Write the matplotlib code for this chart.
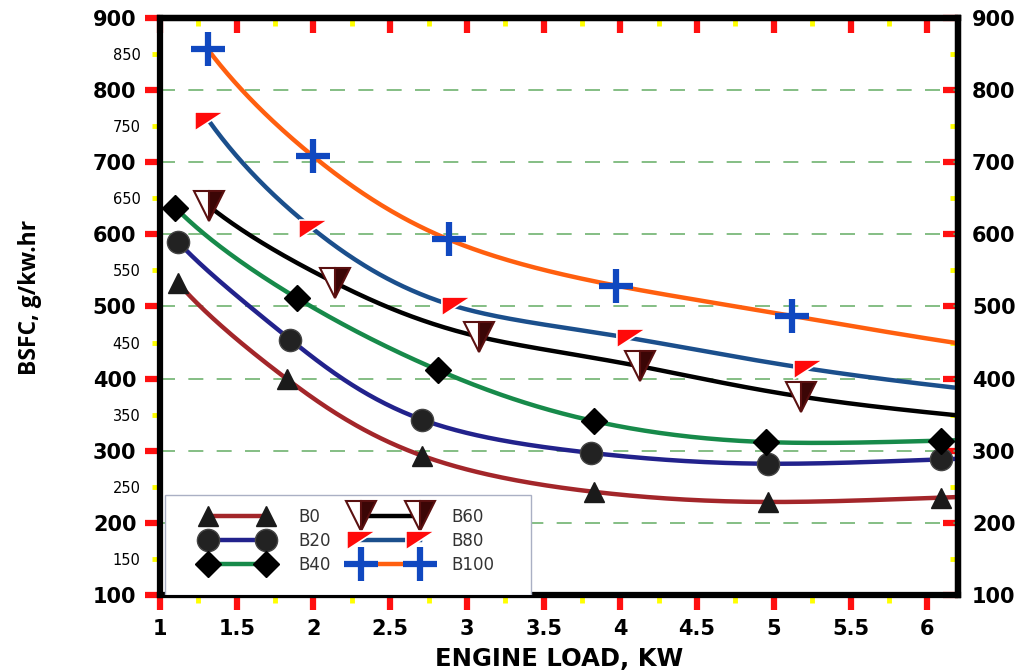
import matplotlib
matplotlib.use("Agg")
import matplotlib.pyplot as plt
import numpy as np
from matplotlib.patches import Rectangle
from matplotlib.ticker import FixedLocator, NullFormatter

# engine load (kW) and BSFC (g/kW.hr)
b0_x = [1.12, 1.83, 2.71, 3.83, 4.96, 6.09]
b0_y = [532, 399, 293, 243, 229, 235]
b20_x = [1.12, 1.85, 2.71, 3.81, 4.96, 6.09]
b20_y = [589, 454, 343, 297, 282, 288]
b40_x = [1.10, 1.89, 2.81, 3.83, 4.95, 6.09]
b40_y = [637, 512, 412, 341, 312, 314]
b60_x = [1.32, 2.14, 3.08, 4.13, 5.18]
b60_y = [639, 533, 458, 417, 375]
b80_x = [1.32, 2.00, 2.93, 4.07, 5.22]
b80_y = [757, 607, 500, 456, 414]
b100_x = [1.31, 2.00, 2.88, 3.97, 5.12]
b100_y = [857, 708, 593, 529, 487]

# where the smoothed curve meets the right-hand axis (x = 6.2);
# None where the last point already sits at the edge
x_max = 6.2
curve_end_y = [None, None, None, 349, 387, 449]

labels = ["B0", "B20", "B40", "B60", "B80", "B100"]
x_ticks = [1, 1.5, 2, 2.5, 3, 3.5, 4, 4.5, 5, 5.5, 6]
x_minor = [1.25, 1.75, 2.25, 2.75, 3.25, 3.75, 4.25, 4.75, 5.25, 5.75]
y_ticks = [100, 200, 300, 400, 500, 600, 700, 800, 900]
y_minor = [150, 250, 350, 450, 550, 650, 750, 850]

flag = [(-1.0, 0.65), (1.0, 0.65), (-1.0, -0.65), (-1.0, 0.65)]

styles = [
    dict(color="#a3262a", marker="^", ms=15, mfc="#1a1a1a", mec="#1a1a1a", mew=1),
    dict(color="#22228c", marker="o", ms=16, mfc="#222222", mec="#444444", mew=1),
    dict(color="#178a4a", marker="D", ms=13, mfc="#000000", mec="#000000", mew=1),
    dict(color="#000000", marker="v", ms=22, mfc="#3b0606", mfcalt="white",
         fillstyle="right", mec="#5a1010", mew=1.5),
    dict(color="#1b4f8c", marker=flag, ms=21, mfc="#ff0a0a", mec="white", mew=1.2),
    dict(color="#ff5f0f", marker="+", ms=25, mfc="#1048c0", mec="#1048c0", mew=4.5),
]


def natural_spline(x, y, xs):
    n = len(x)
    h = np.diff(x)
    A = np.zeros((n, n))
    r = np.zeros(n)
    A[0, 0] = A[-1, -1] = 1.0
    for i in range(1, n - 1):
        A[i, i - 1] = h[i - 1]
        A[i, i] = 2 * (h[i - 1] + h[i])
        A[i, i + 1] = h[i]
        r[i] = 3 * ((y[i + 1] - y[i]) / h[i] - (y[i] - y[i - 1]) / h[i - 1])
    c = np.linalg.solve(A, r)
    b = np.diff(y) / h - h * (2 * c[:-1] + c[1:]) / 3
    d = np.diff(c) / (3 * h)
    idx = np.clip(np.searchsorted(x, xs) - 1, 0, n - 2)
    dx = xs - x[idx]
    return y[idx] + b[idx] * dx + c[idx] * dx ** 2 + d[idx] * dx ** 3


def smooth_curve(x, y, y_end):
    # smoothed line through the points, done in log-log space
    px = np.log(np.asarray(x, dtype=float))
    py = np.log(np.asarray(y, dtype=float))
    if y_end is not None:
        px = np.append(px, np.log(x_max))
        py = np.append(py, np.log(y_end))
    xs = np.linspace(px[0], np.log(x_max), 300)
    return np.exp(xs), np.exp(natural_spline(px, py, xs))


fig = plt.figure(figsize=(10.29, 6.72), dpi=100)
ax = fig.add_axes([160 / 1029, 77 / 672, 798 / 1029, 577 / 672])

series = [(b0_x, b0_y), (b20_x, b20_y), (b40_x, b40_y),
          (b60_x, b60_y), (b80_x, b80_y), (b100_x, b100_y)]
handles = []
for (x, y), y_end, label, st in zip(series, curve_end_y, labels, styles):
    xs, ys = smooth_curve(x, y, y_end)
    ax.plot(xs, ys, color=st["color"], lw=3.2, zorder=3, solid_capstyle="butt")
    kw = dict(marker=st["marker"], ms=st["ms"], mfc=st["mfc"], mec=st["mec"], mew=st["mew"])
    if "fillstyle" in st:
        kw.update(fillstyle=st["fillstyle"], markerfacecoloralt=st["mfcalt"])
    ax.plot(x, y, ls="none", zorder=4, **kw)
    h, = ax.plot([], [], color=st["color"], lw=3.2, label=label, **kw)
    handles.append(h)

ax.set_xlim(1, x_max)
ax.set_ylim(100, 900)

for y in y_ticks[1:-1]:
    ax.axhline(y, color="#6fb36f", lw=1.2, dashes=(9, 8), zorder=1)

for side in ["left", "bottom", "right", "top"]:
    ax.spines[side].set_linewidth(4.5)
    ax.spines[side].set_color("black")
    ax.spines[side].set_zorder(5)

ax.xaxis.set_major_locator(FixedLocator(x_ticks))
ax.xaxis.set_minor_locator(FixedLocator(x_minor))
ax.yaxis.set_major_locator(FixedLocator(y_ticks))
ax.yaxis.set_minor_locator(FixedLocator(y_minor))
ax.xaxis.set_major_formatter(plt.FuncFormatter(lambda v, p: f"{v:g}"))
ax.xaxis.set_minor_formatter(NullFormatter())
ax.yaxis.set_major_formatter(plt.FuncFormatter(lambda v, p: f"{v:g}"))
ax.yaxis.set_minor_formatter(plt.FuncFormatter(lambda v, p: f"{v:g}"))

ax.tick_params(which="major", direction="out", length=11, width=4.5, color="#ff1010",
               top=False, right=False, labelsize=15, pad=6)
ax.tick_params(which="minor", direction="out", length=6, width=3.5, color="#ffff00",
               top=False, right=False)
ax.tick_params(axis="y", which="minor", labelsize=10.5, pad=8)
for lab in ax.get_xticklabels() + ax.get_yticklabels():
    lab.set_fontweight("bold")

top = ax.secondary_xaxis("top")
top.xaxis.set_major_locator(FixedLocator(x_ticks))
top.xaxis.set_minor_locator(FixedLocator(x_minor))
top.xaxis.set_major_formatter(NullFormatter())
top.xaxis.set_minor_formatter(NullFormatter())
top.tick_params(which="major", direction="in", length=11, width=4.5, color="#ff1010",
                labeltop=False)
top.tick_params(which="minor", direction="in", length=6, width=3.5, color="#ffff00")
top.spines["top"].set_linewidth(4.5)

right = ax.secondary_yaxis("right")
right.yaxis.set_major_locator(FixedLocator(y_ticks))
right.yaxis.set_minor_locator(FixedLocator(y_minor))
right.yaxis.set_major_formatter(plt.FuncFormatter(lambda v, p: f"{v:g}"))
right.yaxis.set_minor_formatter(NullFormatter())
right.tick_params(which="major", direction="in", length=11, width=4.5, color="#ff1010",
                  labelsize=15, pad=10)
right.tick_params(which="minor", direction="in", length=6, width=3.5, color="#ffff00")
right.spines["right"].set_linewidth(4.5)
for lab in right.get_yticklabels():
    lab.set_fontweight("bold")

ax.set_xlabel("ENGINE LOAD, KW", fontsize=17.5, fontweight="bold", labelpad=6)
ax.set_ylabel("BSFC, g/kw.hr", fontsize=16.5, fontweight="bold",
              family=["Open Sans", "DejaVu Sans"])
ax.yaxis.set_label_coords(-0.148, 0.516)

# legend box sits on the x axis, left of the data
box = Rectangle((0.006, 0.0), 0.459, 0.173, transform=ax.transAxes, facecolor="white",
                edgecolor="#aab0c4", lw=1.0, zorder=6)
ax.add_patch(box)
leg = ax.legend(handles=handles, ncol=2, numpoints=2, handlelength=4.1,
                loc="center left", bbox_to_anchor=(0.054, 0.094), borderaxespad=0,
                fontsize=12, frameon=False, columnspacing=1.55, labelspacing=0.35,
                borderpad=0.0, handletextpad=1.6)
leg.set_zorder(7)
for t in leg.get_texts():
    t.set_color("#333333")

fig.savefig("out.png", dpi=100)
